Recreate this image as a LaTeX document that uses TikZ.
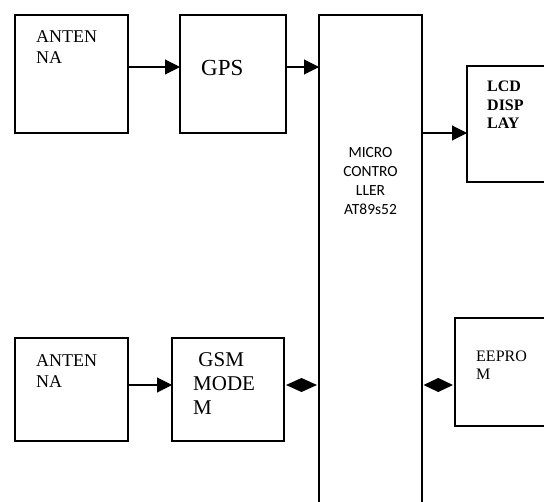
\documentclass[tikz,border=0pt]{standalone}
\usepackage{fontspec}
\setmainfont{Liberation Serif}
\newfontfamily\calfont{Carlito}
\usetikzlibrary{arrows.meta,calc}
\begin{document}
\begin{tikzpicture}[x=1pt,y=-1pt,
  box/.style={draw, line width=1.6pt, inner sep=0pt, outer sep=0pt},
  arr/.style={line width=1.1pt, -{Triangle[length=15pt,width=15pt]}},
  lbl/.style={anchor=base west, inner sep=0pt, align=left}]
\path[use as bounding box] (0,0) rectangle (544,502);
\clip (0,0) rectangle (544,502);
% boxes
\node[box, minimum width=113pt, minimum height=118pt] (ant1) at (71.5,74) {};
\node[box, minimum width=106pt, minimum height=118pt] (gps) at (233,74) {};
\node[box, minimum width=103pt, minimum height=515pt] (mc) at (370.5,272.5) {};
\node[box, minimum width=98pt, minimum height=116pt] (lcd) at (516,124) {};
\node[box, minimum width=113pt, minimum height=103pt] (ant2) at (71.5,389.5) {};
\node[box, minimum width=112pt, minimum height=103pt] (gsm) at (228,389.5) {};
\node[box, minimum width=110pt, minimum height=108pt] (eep) at (510,372) {};
% texts (anchored at the baseline of the last line)
\node[lbl, font=\fontsize{18}{20.7}\selectfont] (t1) at (36,63.3) {ANTEN\\NA};
\node[lbl, font=\fontsize{23}{26}\selectfont] (t2) at (201,76) {GPS};
\node[anchor=base, inner sep=0pt, align=center, font=\calfont\fontsize{15.5}{19}\selectfont] (t3) at (370.5,215) {MICRO\\CONTRO\\LLER\\AT89s52};
\node[lbl, font=\bfseries\fontsize{16}{18.7}\selectfont] (t4) at (487,129) {LCD\\DISP\\LAY};
\node[lbl, font=\fontsize{18}{21}\selectfont] (t5) at (36,387.3) {ANTEN\\NA};
\node[lbl, font=\fontsize{21}{24.2}\selectfont] (t6) at (193,415) {\ GSM\\MODE\\M};
\node[lbl, font=\fontsize{16}{18}\selectfont] (t7) at (476,380) {EEPRO\\M};
% arrows
\draw[arr] ([yshift=7pt]ant1.east) -- ([yshift=7pt]gps.west);
\draw[arr] ([yshift=7pt]gps.east) coordinate (g1) -- (g1 -| mc.west);
\coordinate (l1) at ([yshift=-9pt]lcd.west);
\draw[arr] (l1 -| mc.east) -- (l1);
\draw[arr] ([yshift=4.5pt]ant2.east) -- ([yshift=4.5pt]gsm.west);
% diamonds
\coordinate (d1) at ([yshift=4.5pt]gsm.east);
\path (d1) ++(2,0) coordinate (dl) (d1 -| mc.west) ++(-2,0) coordinate (dr);
\fill (dl) -- ($(dl)!0.5!(dr)+(0,-7)$) -- (dr) -- ($(dl)!0.5!(dr)+(0,7)$) -- cycle;
\coordinate (e1) at (mc.east |- d1);
\path (e1) ++(1.5,0) coordinate (el) (e1 -| eep.west) ++(-2,0) coordinate (er);
\fill (el) -- ($(el)!0.5!(er)+(0,-7)$) -- (er) -- ($(el)!0.5!(er)+(0,7)$) -- cycle;
\end{tikzpicture}
\end{document}
